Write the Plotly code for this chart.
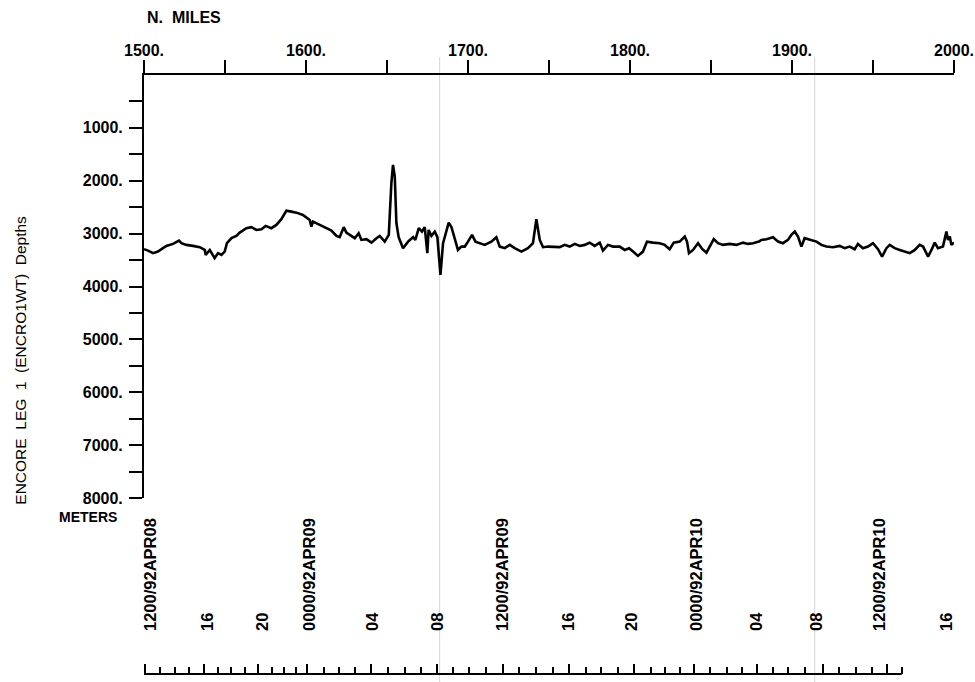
import plotly.graph_objects as go

# ---- data: depth profile (nautical miles along track vs depth in meters)
miles = [1500, 1502.5, 1505.6, 1508.6, 1511.7, 1513.8, 1517.9, 1521.6, 1523.1, 1526.2,
         1530.2, 1534.4, 1537.5, 1538.1, 1540.6, 1543.6, 1545.7, 1547.8, 1549.8, 1551.2,
         1554, 1557, 1559.1, 1563.2, 1566.3, 1569.4, 1572.5, 1575.1, 1578.6, 1581.7,
         1584.8, 1587.9, 1591, 1594.1, 1598.1, 1602.3, 1603.3, 1604.3, 1608.5, 1612.6,
         1615.7, 1618.8, 1620.8, 1623.3, 1624.9,
         1627, 1630.1, 1632.5, 1634.2, 1637.3, 1640.4, 1643.5, 1645.5, 1648.6, 1651.1,
         1652.7, 1653.7, 1654.8, 1655.8, 1657.2, 1659.9, 1663, 1666.1, 1667.5, 1669.6,
         1671.6, 1673.3, 1674.9, 1675.7, 1677.4, 1679.5, 1681.1, 1683, 1684.6, 1686.7,
         1688.1, 1689.8, 1691.8, 1693.8, 1695.9, 1698, 1700, 1702.5, 1704.6, 1707.2,
         1710.3, 1714.4, 1717.5, 1719.6, 1722.7, 1725.8, 1728.8, 1733, 1737, 1740.1,
         1742.2, 1744.3, 1746.3, 1749.4, 1752.5,
         1756.6, 1759.7, 1762.8, 1765.9, 1769, 1772.1, 1775.1, 1778.2, 1781.3, 1783.3,
         1786.4, 1789.5, 1793.7, 1796.7, 1799.4, 1801.9, 1804.9, 1808, 1810.5, 1814.2,
         1818.3, 1821.4, 1824.5, 1827, 1830.7, 1833.8, 1835.2, 1836.4, 1838.9, 1842,
         1844.7, 1847.2, 1849.2, 1851.7, 1854.3, 1857.4, 1861.5, 1865.7, 1869.8, 1872.8,
         1875.9, 1879.6,
         1881.1, 1884.2, 1888.3, 1891.4, 1894.4, 1897.5, 1899.6, 1901.7, 1903.7, 1905.8,
         1907.8, 1910.9, 1915.1, 1918.1, 1921.2, 1925.3, 1929.4, 1932.5, 1935.6, 1938.7,
         1940.7, 1943.8, 1946.9, 1950, 1953.1, 1955.6, 1958.3, 1960.3, 1963.4, 1966.5,
         1969.6, 1972.7, 1975.8, 1978.8, 1980.9, 1984, 1986.1, 1988.1, 1990.1, 1993.2,
         1995.3, 1996.3, 1997.4, 1998.4, 2000]

depths = [3294, 3321, 3370, 3340, 3275, 3232, 3194, 3132, 3181, 3213,
          3232, 3256, 3308, 3402, 3308, 3464, 3370, 3402, 3340, 3181,
          3086, 3043, 2981, 2897, 2878, 2930, 2916, 2854, 2897, 2835,
          2727, 2565, 2584, 2603, 2646, 2741, 2867, 2773, 2835, 2897,
          2943, 3043, 3067, 2878, 2981,
          3024, 3086, 2992, 3119, 3105, 3170, 3086, 3043, 3151, 3024,
          2047, 1701, 1922, 2803, 3067, 3275, 3151, 3067, 3119, 2897,
          2962, 2878, 3370, 2930, 3043, 2962, 3067, 3780, 3181, 2930,
          2792, 2878, 3119, 3308, 3245, 3245, 3151, 3024, 3151, 3181,
          3213, 3151, 3067, 3245, 3275, 3213, 3275, 3340, 3275, 3181,
          2727, 3119, 3256, 3245, 3245,
          3256, 3213, 3245, 3194, 3232, 3213, 3170, 3232, 3170, 3321,
          3213, 3245, 3245, 3308, 3275, 3340, 3421, 3340, 3151, 3170,
          3181, 3213, 3294, 3170, 3151, 3056, 3151, 3370, 3308, 3181,
          3294, 3359, 3245, 3105, 3181, 3213, 3194, 3213, 3170, 3194,
          3181, 3151,
          3119, 3105, 3067, 3151, 3181, 3119, 3024, 2962, 3056, 3245,
          3086, 3119, 3151, 3213, 3245, 3256, 3232, 3275, 3245, 3294,
          3194, 3275, 3245, 3181, 3294, 3434, 3275, 3213, 3275, 3308,
          3340, 3370, 3308, 3213, 3245, 3434, 3308, 3170, 3275, 3245,
          2962, 3119, 3056, 3213, 3170]

# ---- top axis (nautical miles)
mile_ticks = [1500, 1550, 1600, 1650, 1700, 1750, 1800, 1850, 1900, 1950, 2000]
mile_labels = ["1500.", "", "1600.", "", "1700.", "", "1800.", "", "1900.", "", "2000."]

# ---- left axis (depth, meters)
depth_ticks = [500, 1000, 1500, 2000, 2500, 3000, 3500, 4000, 4500, 5000,
               5500, 6000, 6500, 7000, 7500, 8000]
depth_labels = ["", "1000.", "", "2000.", "", "3000.", "", "4000.", "", "5000.",
                "", "6000.", "", "7000.", "", "8000."]

# ---- bottom time axis (times mapped to along-track miles)
time_label_pos = [1504.1, 1539.3, 1573.3, 1602.3, 1641.2, 1681.4, 1721.2,
                  1762.4, 1800.9, 1841.0, 1878.0, 1915.1, 1954.1, 1995.3]
time_labels = ["1200/92APR08", "16", "20", "0000/92APR09", "04", "08", "1200/92APR09",
               "16", "20", "0000/92APR10", "04", "08", "1200/92APR10", "16"]
hour_ticks = [1500.5, 1509.7, 1519.0, 1527.8, 1536.9, 1545.6, 1553.4, 1562.2, 1570.6, 1579.3,
              1586.2, 1593.6, 1600.7, 1611.0, 1620.4, 1630.4, 1640.0, 1650.6, 1660.9, 1671.2,
              1680.6, 1690.5, 1700.5, 1711.1, 1721.7, 1731.7, 1742.2, 1752.2, 1762.2, 1773.1,
              1782.4, 1792.7, 1802.7, 1813.0, 1821.4, 1830.7, 1839.4, 1849.4, 1859.7, 1869.1,
              1878.4, 1888.4, 1897.7, 1908.0, 1918.9, 1928.9, 1939.8, 1949.1, 1958.5, 1967.7]
four_hour_ticks = [1500.5, 1536.9, 1570.6, 1600.7, 1640.0, 1680.6, 1721.7,
                   1762.2, 1802.7, 1839.4, 1878.4, 1918.9, 1958.5]

FONT = "Liberation Sans, Arial, Helvetica, sans-serif"
Y_BOTTOM = 0.2938  # paper fraction where the depth axis ends

fig = go.Figure()
fig.add_trace(go.Scatter(x=miles, y=depths, mode="lines",
                         line=dict(color="black", width=2.6), xaxis="x", yaxis="y",
                         showlegend=False, hoverinfo="skip"))
# invisible traces to activate the overlay axes
fig.add_trace(go.Scatter(x=[1500], y=[0], mode="markers", marker=dict(opacity=0),
                         xaxis="x2", yaxis="y", showlegend=False, hoverinfo="skip"))
fig.add_trace(go.Scatter(x=[1500], y=[0], mode="markers", marker=dict(opacity=0),
                         xaxis="x3", yaxis="y", showlegend=False, hoverinfo="skip"))

fig.update_layout(
    width=975, height=682,
    margin=dict(l=144, r=21, t=75, b=8, pad=0, autoexpand=False),
    paper_bgcolor="white", plot_bgcolor="white",
    font=dict(family=FONT, size=16, color="black", weight="bold"),
    xaxis=dict(range=[1500, 2000], side="top", anchor="y", showgrid=False, zeroline=False,
               automargin=False,
               showline=True, linecolor="black", linewidth=2,
               tickmode="array", tickvals=mile_ticks, ticktext=mile_labels,
               ticks="outside", ticklen=13, tickwidth=2, tickcolor="black",
               ticklabelstandoff=-2, tickfont=dict(size=16, weight="bold")),
    yaxis=dict(range=[8000, 0], domain=[Y_BOTTOM, 1], anchor="x", showgrid=False,
               zeroline=False, automargin=False,
               showline=True, linecolor="black", linewidth=2,
               tickmode="array", tickvals=depth_ticks, ticktext=depth_labels,
               ticks="outside", ticklen=13, tickwidth=2, tickcolor="black",
               ticklabelstandoff=3, tickfont=dict(size=16, weight="bold")),
    xaxis2=dict(range=[1500, 2000], overlaying="x", anchor="free", position=0, side="top",
                automargin=False,
                showgrid=False, zeroline=False, showline=False, showticklabels=False,
                tickmode="array", tickvals=four_hour_ticks,
                ticks="outside", ticklen=10, tickwidth=2, tickcolor="black",
                minor=dict(tickmode="array", tickvals=hour_ticks, ticks="outside",
                           ticklen=7, tickwidth=2, tickcolor="black", showgrid=False)),
    xaxis3=dict(range=[1500, 2000], overlaying="x", anchor="free", position=0, side="top",
                automargin=False,
                showgrid=False, zeroline=False, showline=False,
                tickmode="array", tickvals=time_label_pos, ticktext=time_labels,
                ticks="", tickangle=-90, ticklabelstandoff=43,
                tickfont=dict(size=16.5, weight="bold")),
)

# bottom time-axis baseline (ends at the last hourly tick)
fig.add_shape(type="line", xref="x", yref="paper", x0=1500, x1=hour_ticks[-1], y0=0, y1=0,
              line=dict(color="black", width=2))

# faint vertical paper-fold lines seen on the scanned original
for xf in [1682.5, 1914.0]:
    fig.add_shape(type="line", xref="x", yref="paper", x0=xf, x1=xf, y0=-0.014, y1=1.03,
                  line=dict(color="#d4d4d4", width=1), layer="below")

fig.add_annotation(text="N.  MILES", xref="paper", yref="paper", x=0.001, y=1.0968,
                   xanchor="left", yanchor="middle", showarrow=False,
                   font=dict(size=16, weight="bold"))
fig.add_annotation(text="METERS", xref="paper", yref="paper", x=-0.031, y=0.2621,
                   xanchor="right", yanchor="middle", showarrow=False,
                   font=dict(size=14, weight="bold"))
fig.add_annotation(text="ENCORE  LEG  1  (ENCRO1WT)  Depths", xref="paper", yref="paper",
                   x=-0.1535, y=0.5242, xanchor="center", yanchor="middle",
                   textangle=-90, showarrow=False, font=dict(size=15.5, weight="normal"))

fig.write_html("out.html")
